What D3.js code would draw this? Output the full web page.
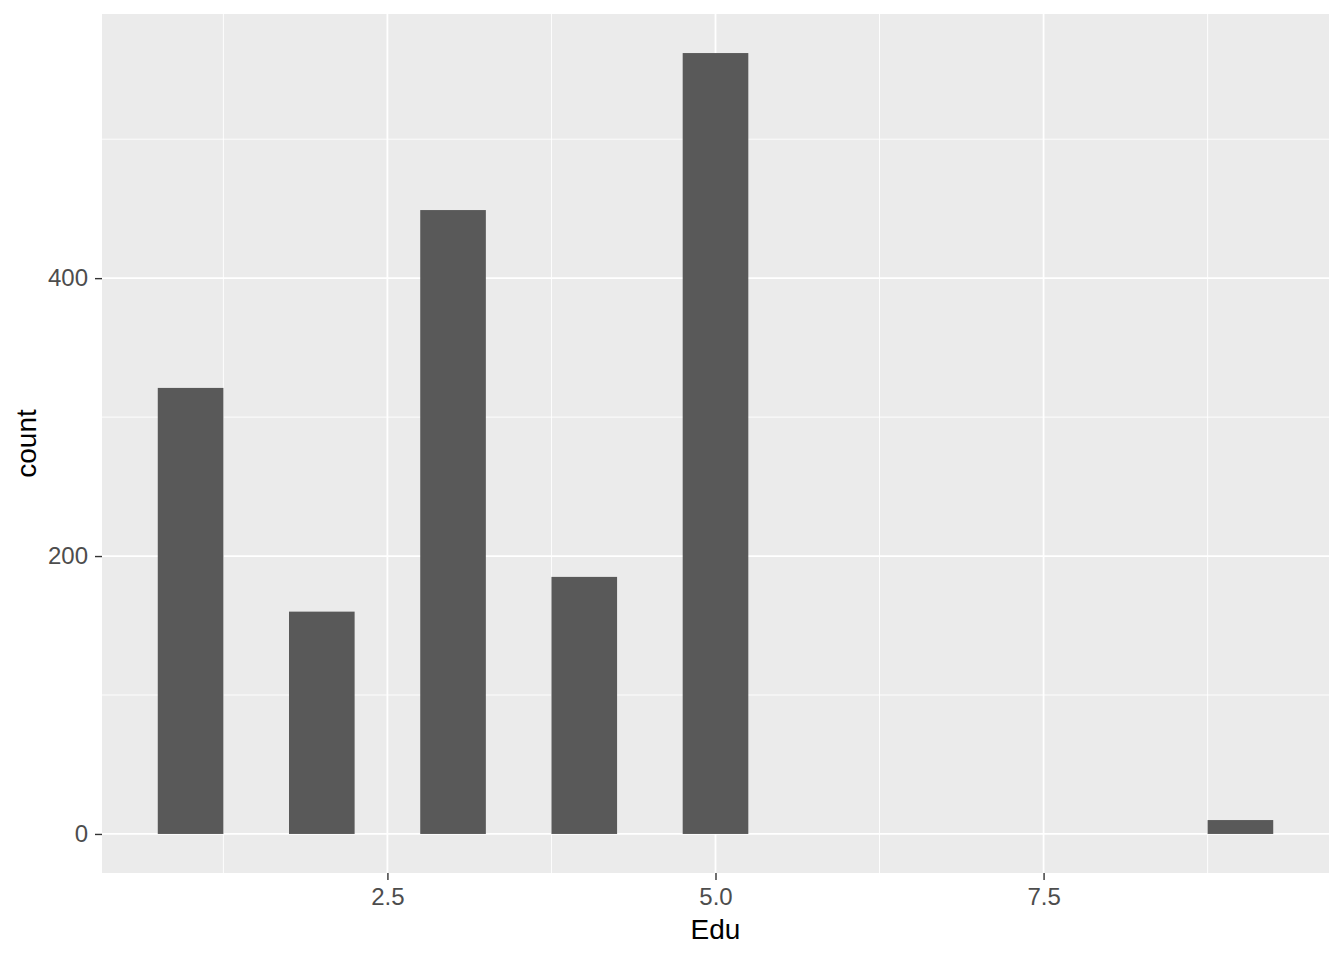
<!DOCTYPE html>
<html>
<head>
<meta charset="utf-8">
<script src="https://cdn.jsdelivr.net/npm/d3@7"></script>
<style>
  body { margin: 0; background: #fff; }
  svg { display: block; font-family: "Liberation Sans", Arial, sans-serif; }
</style>
</head>
<body>
<svg id="chart"></svg>
<script>
// histogram of Edu, bins of width 0.5 centred on each value
var eduValues = [1, 2, 3, 4, 5, 9];
var counts = [321, 160, 449, 185, 562, 10];
var binWidth = 0.5;
var xTicks = [2.5, 5.0, 7.5];
var xMinor = [1.25, 3.75, 6.25, 8.75];
var yTicks = [0, 200, 400];
var yMinor = [100, 300, 500];

var width = 1344,
    height = 960;
var margin = { top: 14, right: 15, bottom: 87, left: 102 };

var svg = d3.select("#chart")
  .attr("width", width)
  .attr("height", height);

var bins = eduValues.map(function(v, i) {
  return { x0: v - binWidth / 2, x1: v + binWidth / 2, count: counts[i] };
});

var xLo = d3.min(bins, function(d) { return d.x0; }),
    xHi = d3.max(bins, function(d) { return d.x1; }),
    xPad = (xHi - xLo) * 0.05;
var yHi = d3.max(counts), yPad = yHi * 0.05;

var x = d3.scaleLinear()
  .domain([xLo - xPad, xHi + xPad])
  .range([margin.left, width - margin.right]);

var y = d3.scaleLinear()
  .domain([-yPad, yHi + yPad])
  .range([height - margin.bottom, margin.top]);

// panel
svg.append("rect")
  .attr("x", margin.left)
  .attr("y", margin.top)
  .attr("width", width - margin.left - margin.right)
  .attr("height", height - margin.top - margin.bottom)
  .attr("fill", "#EBEBEB");

var grid = svg.append("g").attr("class", "grid");

function vLines(vals, w) {
  grid.selectAll(null)
    .data(vals)
    .enter().append("line")
      .attr("x1", function(d) { return x(d); })
      .attr("x2", function(d) { return x(d); })
      .attr("y1", margin.top)
      .attr("y2", height - margin.bottom)
      .attr("stroke", "#fff")
      .attr("stroke-width", w);
}

function hLines(vals, w) {
  grid.selectAll(null)
    .data(vals)
    .enter().append("line")
      .attr("x1", margin.left)
      .attr("x2", width - margin.right)
      .attr("y1", function(d) { return y(d); })
      .attr("y2", function(d) { return y(d); })
      .attr("stroke", "#fff")
      .attr("stroke-width", w);
}

vLines(xMinor, 0.9);
hLines(yMinor, 0.9);
vLines(xTicks, 1.8);
hLines(yTicks, 1.8);

// bars
svg.append("g")
    .attr("class", "bars")
  .selectAll("rect")
  .data(bins)
  .enter().append("rect")
    .attr("x", function(d) { return x(d.x0); })
    .attr("width", function(d) { return x(d.x1) - x(d.x0); })
    .attr("y", function(d) { return y(d.count); })
    .attr("height", function(d) { return y(0) - y(d.count); })
    .attr("fill", "#595959");

// axes
var xAxis = svg.append("g")
  .attr("transform", "translate(0," + (height - margin.bottom) + ")")
  .call(d3.axisBottom(x)
    .tickValues(xTicks)
    .tickFormat(d3.format(".1f"))
    .tickSize(7)
    .tickPadding(8));

var yAxis = svg.append("g")
  .attr("transform", "translate(" + margin.left + ",0)")
  .call(d3.axisLeft(y)
    .tickValues(yTicks)
    .tickSize(7)
    .tickPadding(7));

[xAxis, yAxis].forEach(function(ax) {
  ax.select(".domain").remove();
  ax.selectAll(".tick line").attr("stroke", "#333333").attr("stroke-width", 1.4);
  ax.selectAll(".tick text")
    .attr("fill", "#4D4D4D")
    .style("font-size", "24px");
});

// titles
svg.append("text")
  .attr("x", (margin.left + width - margin.right) / 2)
  .attr("y", 939)
  .attr("text-anchor", "middle")
  .style("font-size", "28px")
  .attr("fill", "#000")
  .text("Edu");

svg.append("text")
  .attr("transform", "translate(36," + ((margin.top + height - margin.bottom) / 2) + ") rotate(-90)")
  .attr("text-anchor", "middle")
  .style("font-size", "28px")
  .attr("fill", "#000")
  .text("count");
</script>
</body>
</html>
